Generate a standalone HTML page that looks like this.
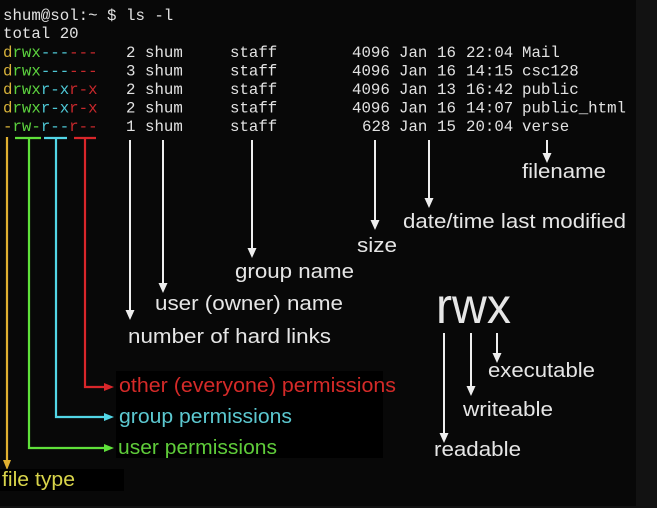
<!DOCTYPE html>
<html><head><meta charset="utf-8"><style>
html,body{margin:0;padding:0;background:#121212;}
svg{display:block}
.m text{font-family:"Liberation Mono",monospace;font-size:15.75px;fill:#e2e2e2}
.s{font-family:"Liberation Sans",sans-serif;font-size:20px;fill:#e6e6e6}
</style></head><body>
<svg width="657" height="508" viewBox="0 0 657 508" xmlns="http://www.w3.org/2000/svg">
<rect x="0" y="0" width="636" height="506" fill="#080808"/>
<g class="m">
<text x="3" y="20">shum@sol:~</text><text x="107" y="20">$</text><text x="126" y="20">ls -l</text>
<text x="3" y="38">total 20</text>

<text x="3" y="57"><tspan fill="#d8b33a">d</tspan><tspan fill="#5cd23e">rwx</tspan><tspan fill="#4ec8d6">---</tspan><tspan fill="#c8282c">---</tspan></text>
<text x="126" y="57">2</text><text x="145" y="57">shum</text><text x="230" y="57">staff</text><text x="352" y="57">4096</text><text x="399" y="57">Jan</text><text x="437" y="57">16</text><text x="466" y="57">22:04</text><text x="522" y="57">Mail</text>

<text x="3" y="75.5"><tspan fill="#d8b33a">d</tspan><tspan fill="#5cd23e">rwx</tspan><tspan fill="#4ec8d6">---</tspan><tspan fill="#c8282c">---</tspan></text>
<text x="126" y="75.5">3</text><text x="145" y="75.5">shum</text><text x="230" y="75.5">staff</text><text x="352" y="75.5">4096</text><text x="399" y="75.5">Jan</text><text x="437" y="75.5">16</text><text x="466" y="75.5">14:15</text><text x="522" y="75.5">csc128</text>

<text x="3" y="94"><tspan fill="#d8b33a">d</tspan><tspan fill="#5cd23e">rwx</tspan><tspan fill="#4ec8d6">r-x</tspan><tspan fill="#c8282c">r-x</tspan></text>
<text x="126" y="94">2</text><text x="145" y="94">shum</text><text x="230" y="94">staff</text><text x="352" y="94">4096</text><text x="399" y="94">Jan</text><text x="437" y="94">13</text><text x="466" y="94">16:42</text><text x="522" y="94">public</text>

<text x="3" y="112.5"><tspan fill="#d8b33a">d</tspan><tspan fill="#5cd23e">rwx</tspan><tspan fill="#4ec8d6">r-x</tspan><tspan fill="#c8282c">r-x</tspan></text>
<text x="126" y="112.5">2</text><text x="145" y="112.5">shum</text><text x="230" y="112.5">staff</text><text x="352" y="112.5">4096</text><text x="399" y="112.5">Jan</text><text x="437" y="112.5">16</text><text x="466" y="112.5">14:07</text><text x="522" y="112.5">public_html</text>

<text x="3" y="131"><tspan fill="#d8b33a">-</tspan><tspan fill="#5cd23e">rw-</tspan><tspan fill="#4ec8d6">r--</tspan><tspan fill="#c8282c">r--</tspan></text>
<text x="126" y="131">1</text><text x="145" y="131">shum</text><text x="230" y="131">staff</text><text x="362" y="131">628</text><text x="399" y="131">Jan</text><text x="437" y="131">15</text><text x="466" y="131">20:04</text><text x="522" y="131">verse</text>
</g>
<!-- permission connectors -->
<g fill="none" stroke-width="2.2">
<path d="M7,137 V462" stroke="#e0b030"/>
<path d="M15,138 H41 M29,138 V448 H106" stroke="#5fe03a"/>
<path d="M44,138 H67 M56,138 V417 H106" stroke="#52d6e6"/>
<path d="M74,138 H96 M85,138 V387 H106" stroke="#d8262a"/>
</g>
<path d="M3,460 L11,460 L7,470 Z" fill="#e0b030"/>
<path d="M104,444 L114,448 L104,452 Z" fill="#5fe03a"/>
<path d="M104,413 L114,417 L104,421 Z" fill="#52d6e6"/>
<path d="M104,383 L114,387 L104,391 Z" fill="#d8262a"/>
<rect x="116" y="371" width="267" height="87" fill="#000"/>
<rect x="0" y="469" width="124" height="22" fill="#000"/>
<g style="font-family:'Liberation Sans',sans-serif;font-size:20px">
<text x="119" y="392" fill="#d42a28" textLength="277" lengthAdjust="spacingAndGlyphs">other (everyone) permissions</text>
<text x="119" y="423" fill="#5cc8d0" textLength="173" lengthAdjust="spacingAndGlyphs">group permissions</text>
<text x="118" y="454" fill="#5fcc3a" textLength="159" lengthAdjust="spacingAndGlyphs">user permissions</text>
<text x="2" y="486" fill="#d8d44a" textLength="73" lengthAdjust="spacingAndGlyphs">file type</text>
</g>
<!-- white arrows -->
<g stroke="#eee" stroke-width="2" fill="none">
<path d="M130,140 V312"/>
<path d="M163,140 V285"/>
<path d="M252,140 V250"/>
<path d="M375,140 V222"/>
<path d="M429,140 V200"/>
<path d="M547,140 V155"/>
<path d="M444,333 V435"/>
<path d="M471,333 V388"/>
<path d="M497,333 V355"/>
</g>
<g fill="#eee">
<path d="M125.5,310 L134.5,310 L130,320 Z"/>
<path d="M158.5,283 L167.5,283 L163,293 Z"/>
<path d="M247.5,248 L256.5,248 L252,258 Z"/>
<path d="M370.5,220 L379.5,220 L375,230 Z"/>
<path d="M424.5,198 L433.5,198 L429,208 Z"/>
<path d="M542.5,153 L551.5,153 L547,163 Z"/>
<path d="M439.5,433 L448.5,433 L444,443 Z"/>
<path d="M466.5,386 L475.5,386 L471,396 Z"/>
<path d="M492.5,353 L501.5,353 L497,363 Z"/>
</g>
<g class="s">
<text x="128" y="343" textLength="203" lengthAdjust="spacingAndGlyphs">number of hard links</text>
<text x="155" y="310" textLength="188" lengthAdjust="spacingAndGlyphs">user (owner) name</text>
<text x="235" y="278" textLength="119" lengthAdjust="spacingAndGlyphs">group name</text>
<text x="357" y="252" textLength="40" lengthAdjust="spacingAndGlyphs">size</text>
<text x="403" y="228" textLength="223" lengthAdjust="spacingAndGlyphs">date/time last modified</text>
<text x="522" y="178" textLength="84" lengthAdjust="spacingAndGlyphs">filename</text>
<text x="488" y="377" textLength="107" lengthAdjust="spacingAndGlyphs">executable</text>
<text x="463" y="416" textLength="90" lengthAdjust="spacingAndGlyphs">writeable</text>
<text x="434" y="456" textLength="87" lengthAdjust="spacingAndGlyphs">readable</text>
<text x="436" y="323" style="font-size:50px" textLength="75" lengthAdjust="spacingAndGlyphs">rwx</text>
</g>
</svg>
</body></html>
